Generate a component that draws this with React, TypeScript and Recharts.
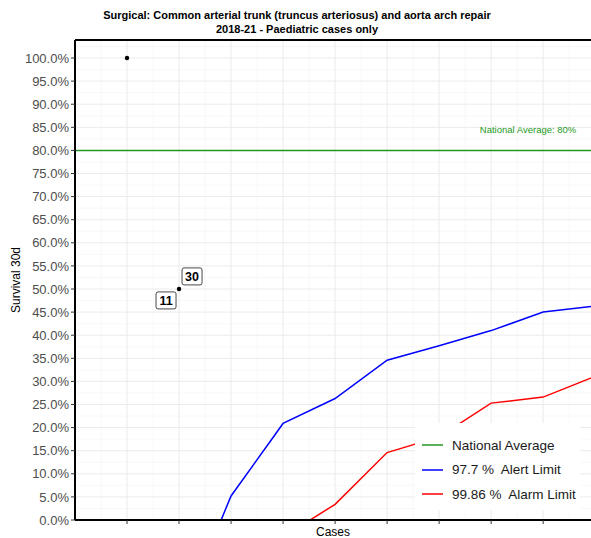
import React from 'react';
import { ComposedChart, Line, XAxis, YAxis, CartesianGrid, ReferenceLine, ReferenceDot, Scatter } from 'recharts';

const FONT = '"Liberation Sans", Arial, Helvetica, sans-serif';

const titleLines = [
  'Surgical: Common arterial trunk (truncus arteriosus) and aorta arch repair',
  '2018-21 - Paediatric cases only',
];

// Control-limit curves (x in case-axis units)
const limitCases = [2, 3, 4, 5, 6, 7, 8, 9, 10];
const alertLimit = [-22, 5.2, 20.9, 26.3, 34.6, 37.7, 41.0, 45.0, 46.3];
const alarmLimit = [null, null, -3.7, 3.4, 14.6, 18.0, 25.3, 26.6, 31.1];

// Observed units
const observedCases = [1, 2];
const observedSurvival = [100, 50];

// Repelled labels on the 50% unit
const labelTexts = ['30', '11'];
const labelCase = 2;
const labelSurvival = 50;

const nationalAverage = 80;
const nationalLabel = 'National Average: 80%';

const yTicks = [0, 5, 10, 15, 20, 25, 30, 35, 40, 45, 50, 55, 60, 65, 70, 75, 80, 85, 90, 95, 100];
const yMinorGrid = [2.5, 7.5, 12.5, 17.5, 22.5, 27.5, 32.5, 37.5, 42.5, 47.5, 52.5, 57.5, 62.5, 67.5, 72.5, 77.5, 82.5, 87.5, 92.5, 97.5, 102.5];
const xTicks = [1, 2, 3, 4, 5, 6, 7, 8, 9];
const xMinorGrid = [0.5, 1.5, 2.5, 3.5, 4.5, 5.5, 6.5, 7.5, 8.5, 9.5];
const X_MAX = 9.92;
const Y_MAX = 103.9;

const legendLabels = ['National Average', '97.7 %  Alert Limit', '99.86 %  Alarm Limit'];
const legendColors = ['#229922', '#0000ff', '#ff0000'];

const lineData = limitCases.map((x, i) => ({ x, alert: alertLimit[i], alarm: alarmLimit[i] }));
const pointData = observedCases.map((x, i) => ({ x, y: observedSurvival[i] }));
const labelData = labelTexts.map((label) => ({ x: labelCase, y: labelSurvival, label }));

const labelOffsets: Record<string, [number, number]> = { '30': [13, -12.6], '11': [-13, 11.4] };

const DotShape = (p: any) => <circle cx={p.cx} cy={p.cy} r={2.2} fill="#000" />;

const LabelShape = (p: any) => {
  const off = labelOffsets[p.payload.label] || [0, 0];
  const cx = p.cx + off[0];
  const cy = p.cy + off[1];
  return (
    <g>
      <rect x={cx - 10} y={cy - 8.5} width={20} height={17} rx={2} fill="#fff" stroke="#333" strokeWidth={0.9} />
      <text x={cx} y={cy} dy="0.36em" textAnchor="middle" fontWeight="bold" fontSize={12.5} fill="#000" fontFamily={FONT}>
        {p.payload.label}
      </text>
    </g>
  );
};

export default function App() {
  return (
    <div style={{ position: 'absolute', left: 0, top: 0, width: 591, height: 538, fontFamily: FONT, background: '#fff', overflow: 'hidden' }}>
      <div style={{ position: 'absolute', left: 0, top: 7.5, width: 594, textAlign: 'center', fontWeight: 'bold', fontSize: 11, lineHeight: '14.5px', color: '#000' }}>
        {titleLines.map((t) => (
          <div key={t}>{t}</div>
        ))}
      </div>
      <ComposedChart width={591} height={538} data={lineData} margin={{ top: 40, right: 0, bottom: 0, left: 15 }} style={{ position: 'absolute', left: 0, top: 0 }}>
        <CartesianGrid stroke="#f3f3f3" strokeWidth={0.6} horizontalValues={yMinorGrid} verticalValues={xMinorGrid} />
        <CartesianGrid stroke="#ebebeb" strokeWidth={1} horizontalValues={yTicks} verticalValues={xTicks} />
        <XAxis
          dataKey="x"
          type="number"
          domain={[0, X_MAX]}
          ticks={xTicks}
          allowDataOverflow
          height={18}
          tickSize={4}
          tickLine={{ stroke: '#333', strokeWidth: 1 }}
          axisLine={{ stroke: '#000', strokeWidth: 2 }}
          tick={() => <g />}
          label={{ value: 'Cases', position: 'insideBottom', offset: 2, fill: '#000', fontSize: 12, fontFamily: FONT }}
        />
        <YAxis
          type="number"
          domain={[0, Y_MAX]}
          ticks={yTicks}
          allowDataOverflow
          width={60}
          tickSize={4}
          tickMargin={2}
          interval={0}
          tickFormatter={(v: number) => v.toFixed(1) + '%'}
          tick={{ fill: '#4d4d4d', fontSize: 13, fontFamily: FONT }}
          tickLine={{ stroke: '#333', strokeWidth: 1 }}
          axisLine={{ stroke: '#000', strokeWidth: 2 }}
          label={{
            content: () => (
              <text x={16} y={280} transform="rotate(-90 16 280)" textAnchor="middle" dy="0.36em" fontSize={12} fill="#000" fontFamily={FONT}>
                Survival 30d
              </text>
            ),
          }}
        />
        <ReferenceLine y={Y_MAX} stroke="#000" strokeWidth={2} ifOverflow="visible" />
        <ReferenceLine y={nationalAverage} stroke={legendColors[0]} strokeWidth={1.5} />
        <ReferenceDot
          x={8.71}
          y={84.6}
          r={0}
          stroke="none"
          fill="none"
          ifOverflow="visible"
          label={{ value: nationalLabel, position: 'center', fill: legendColors[0], fontSize: 9.5, fontFamily: FONT }}
        />
        <Line dataKey="alert" stroke={legendColors[1]} strokeWidth={1.5} dot={false} isAnimationActive={false} connectNulls={false} />
        <Line dataKey="alarm" stroke={legendColors[2]} strokeWidth={1.5} dot={false} isAnimationActive={false} connectNulls={false} />
        <Scatter data={pointData} dataKey="y" shape={DotShape} isAnimationActive={false} />
        <Scatter data={labelData} dataKey="y" shape={LabelShape} isAnimationActive={false} />
      </ComposedChart>
      <div style={{ position: 'absolute', left: 415, top: 423, width: 165, height: 87, background: '#fff' }}>
        {legendLabels.map((label, i) => (
          <div key={label} style={{ position: 'absolute', left: 0, top: 11 + i * 24.5, height: 22, display: 'flex', alignItems: 'center' }}>
            <svg width={37} height={22} style={{ display: 'block' }}>
              <line x1={7} x2={28} y1={11} y2={11} stroke={legendColors[i]} strokeWidth={1.5} />
            </svg>
            <span style={{ fontSize: 13.5, color: '#1a1a1a', whiteSpace: 'pre' }}>{label}</span>
          </div>
        ))}
      </div>
    </div>
  );
}
